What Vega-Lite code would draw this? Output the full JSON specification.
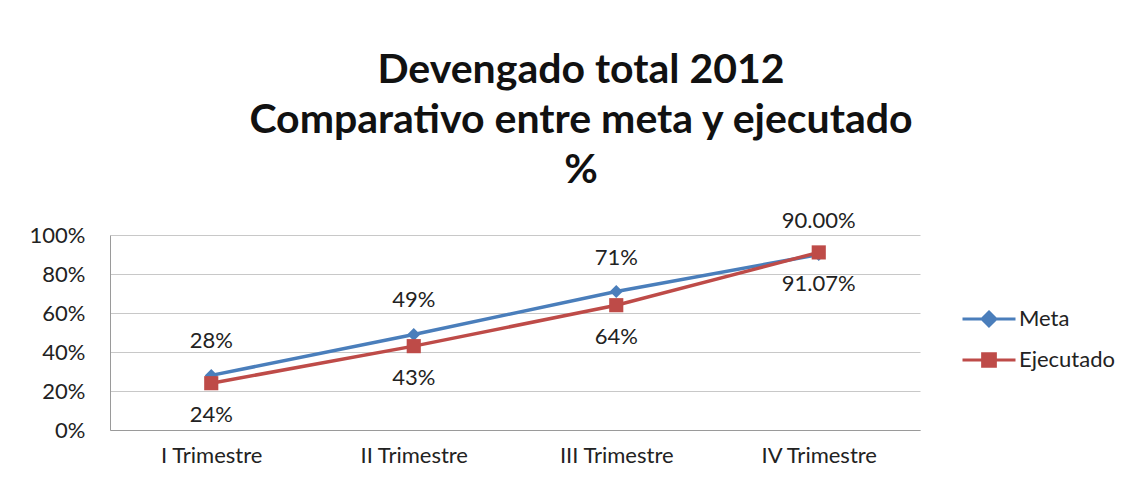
{
  "$schema": "https://vega.github.io/schema/vega-lite/v6.json",
  "width": 810,
  "height": 195,
  "autosize": {"type": "none"},
  "padding": {"left": 110, "top": 235, "right": 218, "bottom": 55},
  "background": "white",
  "config": {"view": {"stroke": null}, "font": "Lato"},
  "title": {
    "text": ["Devengado total 2012", "Comparativo entre meta y ejecutado", "%"],
    "font": "Lato",
    "fontSize": 41,
    "fontWeight": "bold",
    "color": "#111111",
    "lineHeight": 50,
    "anchor": "middle",
    "frame": "group",
    "dx": 66,
    "offset": 18
  },
  "data": {
    "values": [
      {"trimestre": "I Trimestre", "serie": "Meta", "valor": 0.28, "etiqueta": "28%"},
      {"trimestre": "II Trimestre", "serie": "Meta", "valor": 0.49, "etiqueta": "49%"},
      {"trimestre": "III Trimestre", "serie": "Meta", "valor": 0.71, "etiqueta": "71%"},
      {"trimestre": "IV Trimestre", "serie": "Meta", "valor": 0.90, "etiqueta": "90.00%"},
      {"trimestre": "I Trimestre", "serie": "Ejecutado", "valor": 0.24, "etiqueta": "24%"},
      {"trimestre": "II Trimestre", "serie": "Ejecutado", "valor": 0.43, "etiqueta": "43%"},
      {"trimestre": "III Trimestre", "serie": "Ejecutado", "valor": 0.64, "etiqueta": "64%"},
      {"trimestre": "IV Trimestre", "serie": "Ejecutado", "valor": 0.9107, "etiqueta": "91.07%"}
    ]
  },
  "encoding": {
    "x": {
      "field": "trimestre",
      "type": "nominal",
      "sort": ["I Trimestre", "II Trimestre", "III Trimestre", "IV Trimestre"],
      "scale": {"type": "point", "padding": 0.5},
      "axis": {
        "title": null,
        "labelAngle": 0,
        "labelFont": "Lato",
        "labelFontSize": 22,
        "labelColor": "#222222",
        "ticks": false,
        "domainColor": "#9a9a9a",
        "labelPadding": 15
      }
    },
    "y": {
      "field": "valor",
      "type": "quantitative",
      "scale": {"domain": [0, 1]},
      "axis": {
        "title": null,
        "format": ".0%",
        "values": [0, 0.2, 0.4, 0.6, 0.8, 1],
        "labelFont": "Lato",
        "labelFontSize": 22,
        "labelColor": "#222222",
        "ticks": false,
        "domainColor": "#9a9a9a",
        "gridColor": "#c8c8c8",
        "labelPadding": 25
      }
    }
  },
  "layer": [
    {
      "mark": {"type": "line", "strokeWidth": 3.5},
      "encoding": {
        "color": {
          "field": "serie",
          "type": "nominal",
          "scale": {"domain": ["Meta", "Ejecutado"], "range": ["#4a7ebb", "#be4b48"]},
          "legend": {
            "title": null,
            "orient": "none",
            "legendX": 851,
            "legendY": 56,
            "labelFont": "Lato",
            "labelFontSize": 22,
            "labelColor": "#222222",
            "labelOffset": 2,
            "symbolSize": 2809,
            "symbolStrokeWidth": 3,
            "rowPadding": -8,
            "encode": {
              "symbols": {
                "update": {
                  "shape": {"signal": "datum.value === 'Meta' ? 'M-1,0L-0.25,0M0,-0.26L0.26,0L0,0.26L-0.26,0ZM0.25,0L1,0' : 'M-1,0L-0.24,0M-0.24,-0.24L0.24,-0.24L0.24,0.24L-0.24,0.24ZM0.24,0L1,0'"},
                  "fill": {"signal": "datum.value === 'Meta' ? '#4a7ebb' : '#be4b48'"},
                  "stroke": {"signal": "datum.value === 'Meta' ? '#4a7ebb' : '#be4b48'"},
                  "opacity": {"value": 1}
                }
              }
            }
          }
        }
      }
    },
    {
      "transform": [{"filter": "datum.serie === 'Meta'"}],
      "mark": {"type": "point", "filled": true, "opacity": 1, "size": 170, "shape": "diamond"},
      "encoding": {"color": {"field": "serie", "type": "nominal", "legend": null}}
    },
    {
      "transform": [{"filter": "datum.serie === 'Ejecutado'"}],
      "mark": {"type": "point", "filled": true, "opacity": 1, "size": 200, "shape": "square"},
      "encoding": {"color": {"field": "serie", "type": "nominal", "legend": null}}
    },
    {
      "transform": [{"filter": "datum.serie === 'Meta'"}],
      "mark": {"type": "text", "dy": -34, "font": "Lato", "fontSize": 22, "color": "#222222"},
      "encoding": {"text": {"field": "etiqueta"}}
    },
    {
      "transform": [{"filter": "datum.serie === 'Ejecutado'"}],
      "mark": {"type": "text", "dy": 32, "font": "Lato", "fontSize": 22, "color": "#222222"},
      "encoding": {"text": {"field": "etiqueta"}}
    }
  ]
}
